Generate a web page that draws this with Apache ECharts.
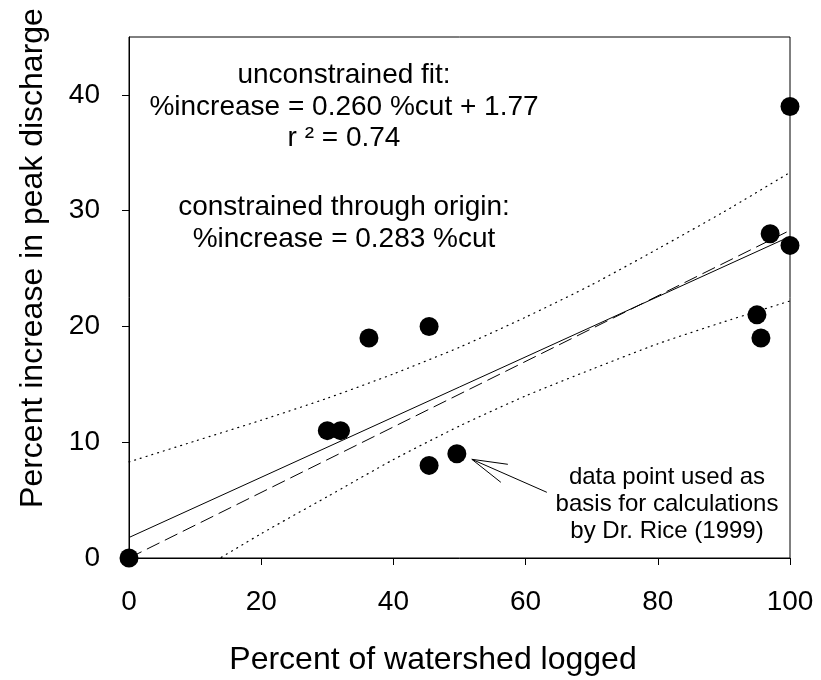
<!DOCTYPE html>
<html><head><meta charset="utf-8">
<script src="https://cdn.jsdelivr.net/npm/echarts@6/dist/echarts.min.js"></script>
<style>html,body{margin:0;padding:0;background:#fff}#c{width:821px;height:680px}</style>
</head><body><div id="c"></div>
<script>
// ---- data ----
const loggedPct    = [0, 30, 32, 36.3, 45.4, 45.4, 49.6, 95, 95.6, 97, 100, 100];
const peakIncrease = [0, 11, 11, 19, 20, 8, 9, 21, 19, 28, 39, 27];
const fitX = [0, 100];
const unconstrainedFit = [1.77, 27.77];
const constrainedFit = [0, 28.3];
const bandX     = [0, 10, 20, 30, 40, 50, 60, 70, 80, 90, 100];
const bandUpper = [8.3, 10.1, 11.9, 13.8, 15.9, 18.2, 20.8, 23.6, 26.7, 29.9, 33.3];
const bandLower = [-4.8, -1.3, 2.1, 5.3, 8.5, 11.4, 14.0, 16.3, 18.5, 20.4, 22.2];
const xTickValues = [0, 20, 40, 60, 80, 100];
const yTickValues = [0, 10, 20, 30, 40];
const fitText  = ['unconstrained fit:', '%increase = 0.260 %cut + 1.77', 'r \u00b2 = 0.74',
                  'constrained through origin:', '%increase = 0.283 %cut'];
const noteText = ['data point used as', 'basis for calculations', 'by Dr. Rice (1999)'];
const xTitle = 'Percent of watershed logged';
const yTitle = 'Percent increase in peak discharge';
const notedPointIndex = 6;

const FONT = '"Liberation Sans", Arial, sans-serif';
const pairs = (xs, ys) => xs.map((x, i) => [x, ys[i]]);

const chart = echarts.init(document.getElementById('c'), null, {renderer: 'canvas'});
const option = {
  animation: false,
  backgroundColor: '#fff',
  grid: {left: 129, top: 37, right: 31, bottom: 122, show: true, borderColor: '#000', borderWidth: 1},
  xAxis: {
    type: 'value', min: 0, max: 100, interval: 20,
    splitLine: {show: false},
    axisLine: {show: true, onZero: false, lineStyle: {color: '#000', width: 1}},
    axisTick: {show: true, inside: false, length: 7, lineStyle: {color: '#000'}, customValues: xTickValues},
    axisLabel: {show: true, margin: 30, fontSize: 28, fontFamily: FONT, color: '#000', customValues: xTickValues}
  },
  yAxis: {
    type: 'value', min: 0, max: 45, interval: 10,
    splitLine: {show: false},
    axisLine: {show: true, onZero: false, lineStyle: {color: '#000', width: 1}},
    axisTick: {show: true, inside: false, length: 7, lineStyle: {color: '#000'}, customValues: yTickValues},
    axisLabel: {show: true, margin: 29, fontSize: 28, fontFamily: FONT, color: '#000', customValues: yTickValues}
  },
  series: [
    {type: 'line', data: pairs(bandX, bandUpper), smooth: 0.2, showSymbol: false, clip: true,
     lineStyle: {color: '#000', width: 1.2, type: [1, 5], cap: 'round'}, z: 2},
    {type: 'line', data: pairs(bandX, bandLower), smooth: 0.2, showSymbol: false, clip: true,
     lineStyle: {color: '#000', width: 1.2, type: [1, 5], cap: 'round'}, z: 2},
    {type: 'line', data: pairs(fitX, unconstrainedFit), showSymbol: false, clip: true,
     lineStyle: {color: '#000', width: 1}, z: 3},
    {type: 'line', data: pairs(fitX, constrainedFit), showSymbol: false, clip: true,
     lineStyle: {color: '#000', width: 1, type: [14, 6]}, z: 3},
    {type: 'scatter', data: pairs(loggedPct, peakIncrease), symbol: 'circle', symbolSize: 19,
     itemStyle: {color: '#000', opacity: 1}, clip: false, z: 5}
  ]
};
chart.setOption(option);

// annotations
const g = [];
const fitYs = [75, 107, 138, 207, 239];
fitText.forEach((t, i) => g.push({type: 'text', x: 344, y: fitYs[i], silent: true,
  style: {text: t, font: '28px ' + FONT, fill: '#000', textAlign: 'center', textVerticalAlign: 'middle', verticalAlign: 'middle'}}));
const noteYs = [477, 504, 531];
noteText.forEach((t, i) => g.push({type: 'text', x: 667, y: noteYs[i], silent: true,
  style: {text: t, font: '24px ' + FONT, fill: '#000', textAlign: 'center', textVerticalAlign: 'middle', verticalAlign: 'middle'}}));
g.push({type: 'text', x: 433, y: 660, silent: true,
  style: {text: xTitle, font: '32px ' + FONT, fill: '#000', textAlign: 'center', textVerticalAlign: 'middle', verticalAlign: 'middle'}});
g.push({type: 'text', x: 33, y: 258, rotation: Math.PI / 2, silent: true,
  style: {text: yTitle, font: '32px ' + FONT, fill: '#000', textAlign: 'center', textVerticalAlign: 'middle', verticalAlign: 'middle'}});

// arrow pointing at the noted data point
const p = chart.convertToPixel({gridIndex: 0}, [loggedPct[notedPointIndex], peakIncrease[notedPointIndex]]);
const tip = [p[0] + 15, p[1] + 5.5];
g.push({type: 'polyline', silent: true, shape: {points: [[p[0] + 90, p[1] + 38.5], tip]}, style: {stroke: '#000', lineWidth: 1, fill: null}});
g.push({type: 'polyline', silent: true, shape: {points: [[p[0] + 51, p[1] + 10.5], tip, [p[0] + 44, p[1] + 28.5]]}, style: {stroke: '#000', lineWidth: 1, fill: null}});
chart.setOption({graphic: g});
</script></body></html>
